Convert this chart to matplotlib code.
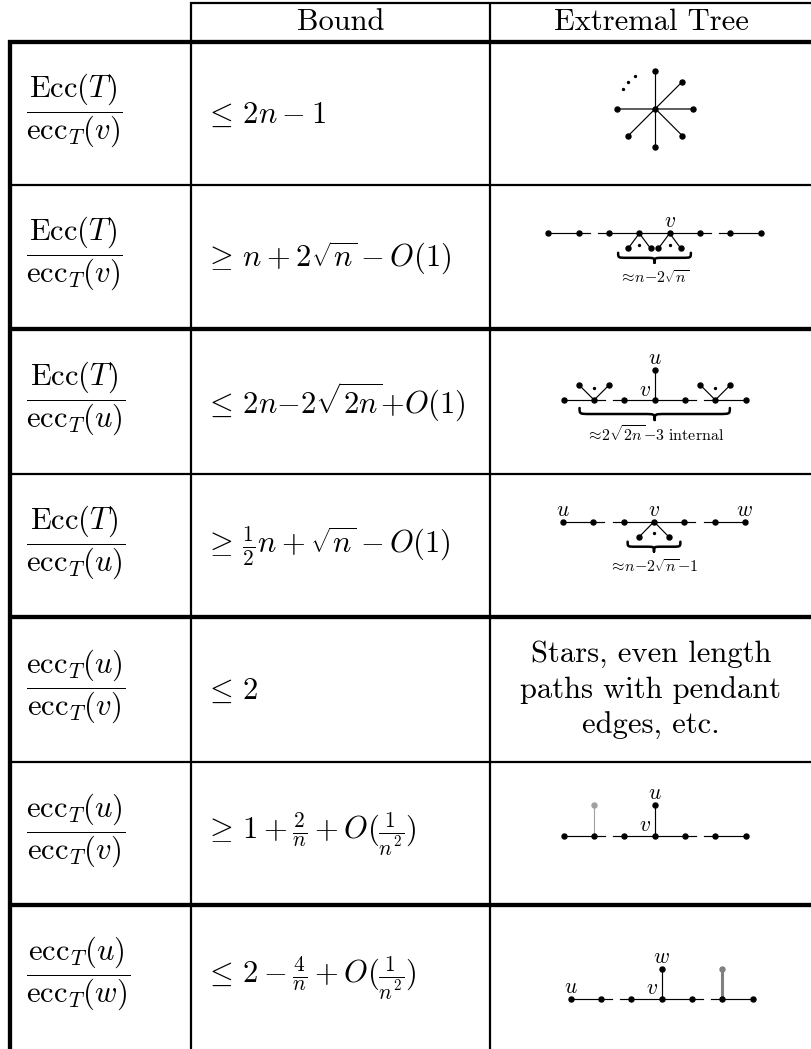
import matplotlib
matplotlib.use("Agg")
import matplotlib.pyplot as plt
from matplotlib.path import Path
from matplotlib.patches import PathPatch
import numpy as np

plt.rcParams["mathtext.fontset"] = "cm"

W, H = 812, 1049

# ---------------- table content ----------------
header_labels = ["Bound", "Extremal Tree"]
ratio_labels = [
    r"$\dfrac{\mathrm{Ecc}(T)}{\mathrm{ecc}_T(v)}$",
    r"$\dfrac{\mathrm{Ecc}(T)}{\mathrm{ecc}_T(v)}$",
    r"$\dfrac{\mathrm{Ecc}(T)}{\mathrm{ecc}_T(u)}$",
    r"$\dfrac{\mathrm{Ecc}(T)}{\mathrm{ecc}_T(u)}$",
    r"$\dfrac{\mathrm{ecc}_T(u)}{\mathrm{ecc}_T(v)}$",
    r"$\dfrac{\mathrm{ecc}_T(u)}{\mathrm{ecc}_T(v)}$",
    r"$\dfrac{\mathrm{ecc}_T(u)}{\mathrm{ecc}_T(w)}$",
]
bound_labels = [
    r"$\leq\, 2n-1$",
    r"$\geq\, n+2\sqrt{n}-O(1)$",
    r"$\leq\, 2n{-}2\sqrt{2n}{+}O(1)$",
    r"$\geq\, \frac{1}{2}n+\sqrt{n}-O(1)$",
    r"$\leq\, 2$",
    r"$\geq\, 1+\frac{2}{n}+O(\frac{1}{n^2})$",
    r"$\leq\, 2-\frac{4}{n}+O(\frac{1}{n^2})$",
]
text_tree_lines = ["Stars, even length", "paths with pendant", "edges, etc."]
text_tree_row = 4

# star (row 0)
star_leaf_angles = [90, 45, 0, -45, -90, -135, 180]
star_dot_angles = [148, 135, 122]

# path-like trees
tree_rows = [1, 2, 3, 5, 6]
tree_sizes = [8, 7, 7, 7, 7]
tree_breaks = [[1, 5], [1, 4], [1, 4], [1, 4], [1, 4]]
tree_fans = [[3, 4], [1, 5], [3], [], []]
tree_fan_dir = [1, -1, 1, 0, 0]
tree_fan_spread = [0.37, 0.5, 0.49, 0, 0]
tree_up_node = [None, 3, None, 3, 3]
tree_up_label = [None, "u", None, "u", "w"]
tree_side_label = [None, "v", None, "v", "v"]
tree_path_labels = [[(4, "v")], [], [(0, "u"), (3, "v"), (6, "w")], [], [(0, "u")]]
tree_grey_node = [None, None, None, 1, 5]
tree_grey_lw = [0, 0, 0, 0.8, 2.2]
tree_grey_color = [None, None, None, "#a0a0a0", "#808080"]
tree_brace_center = [3.5, 3, 3, None, None]
tree_brace_half = [1.2, 2.48, 0.87, 0, 0]
tree_brace_label = [r"$\approx\!n{-}2\sqrt{n}$",
                    r"$\approx\!2\sqrt{2n}{-}3\ \mathrm{internal}$",
                    r"$\approx\!n{-}2\sqrt{n}{-}1$", None, None]

# ---------------- layout ----------------
row_edges = [42, 185, 329, 474, 617, 762, 905, 1049]
row_rule_thick = [True, False, True, False, True, False, True]
col_x = [10.5, 191, 490.5]
tree_center_x = [654.5, 654.7, 654, 654.7, 661.7]
tree_path_y = [233.3, 400, 521.7, 835.7, 999]
brace_top = [19.5, 8, 20, 0, 0]
brace_h = [10, 12, 10, 0, 0]
brace_label_y = [45, 35, 46, 0, 0]
U = 30.3
THIN, THICK = 1.6, 3.1
EDGE = 0.85
MS = 3.6
main_fs = 22
lab_fs = 15.5
small_fs = 11.5

fig = plt.figure(figsize=(W / 100, H / 100), dpi=100)
ax = fig.add_axes([0, 0, 1, 1])
ax.set_xlim(0, W)
ax.set_ylim(H, 0)
ax.axis("off")

# grid
ax.plot([col_x[1] - 0.8, W], [3.2, 3.2], color="k", lw=THIN, solid_capstyle="butt")
for cx in col_x[1:]:
    ax.plot([cx, cx], [2.4, H], color="k", lw=THIN, solid_capstyle="butt")
ax.plot([col_x[0], col_x[0]], [row_edges[0] - 2, H], color="k", lw=THICK, solid_capstyle="butt")
for y, tk in zip(row_edges[:-1], row_rule_thick):
    ax.plot([col_x[0] - 2, W], [y, y], color="k", lw=THICK if tk else THIN, solid_capstyle="butt")

# header
ax.text((col_x[1] + col_x[2]) / 2, 30.5, header_labels[0], fontsize=main_fs,
        family="cmr10", ha="center", va="baseline")
ax.text((col_x[2] + W) / 2, 30.5, header_labels[1], fontsize=main_fs,
        family="cmr10", ha="center", va="baseline")

# rows
for i in range(len(ratio_labels)):
    rc = (row_edges[i] + row_edges[i + 1]) / 2
    ax.text(26, rc - 3, ratio_labels[i], fontsize=main_fs, ha="left", va="center")
    ax.text(204, rc + 1, bound_labels[i], fontsize=main_fs, ha="left", va="center")

# text cell
for j, line in enumerate(text_tree_lines):
    ax.text(651, 662 + 36 * j, line, fontsize=main_fs, family="cmr10",
            ha="center", va="baseline")

# star
sc_x, sc_y, R = 655.3, 108.7, 38
for a in star_leaf_angles:
    ex, ey = sc_x + R * np.cos(np.radians(a)), sc_y - R * np.sin(np.radians(a))
    col = "#505050" if a in (0, 180) else "k"
    lw = 1.3 if a in (0, 180) else EDGE
    ax.plot([sc_x, ex], [sc_y, ey], color=col, lw=lw, zorder=2)
    ax.plot(ex, ey, "o", color="k", ms=MS, zorder=3)
ax.plot(sc_x, sc_y, "o", color="k", ms=MS, zorder=3)
for a in star_dot_angles:
    ax.plot(sc_x + R * np.cos(np.radians(a)), sc_y - R * np.sin(np.radians(a)),
            "o", color="k", ms=1.4, zorder=3)


def brace(xc, half, ytop, h, lw=1.8):
    x0, x1 = xc - half, xc + half
    ym, yt = ytop + h / 2, ytop + h
    r = min(h * 0.9, half * 0.3)
    verts = [(x0, ytop), (x0, ym), (x0, ym), (x0 + r, ym),
             (xc - r, ym),
             (xc, ym), (xc, ym), (xc, yt),
             (xc, ym), (xc, ym), (xc + r, ym),
             (x1 - r, ym),
             (x1, ym), (x1, ym), (x1, ytop)]
    codes = [Path.MOVETO, Path.CURVE4, Path.CURVE4, Path.CURVE4,
             Path.LINETO,
             Path.CURVE4, Path.CURVE4, Path.CURVE4,
             Path.CURVE4, Path.CURVE4, Path.CURVE4,
             Path.LINETO,
             Path.CURVE4, Path.CURVE4, Path.CURVE4]
    ax.add_patch(PathPatch(Path(verts, codes), fill=False, lw=lw, color="k",
                           capstyle="round", joinstyle="round"))


for k, r in enumerate(tree_rows):
    n = tree_sizes[k]
    x0 = tree_center_x[k] - (n - 1) / 2 * U
    y0 = tree_path_y[k]
    xs = x0 + np.arange(n) * U
    for i in range(n - 1):
        if i in tree_breaks[k]:
            ax.plot([xs[i], xs[i] + 0.36 * U], [y0, y0], color="k", lw=EDGE)
            ax.plot([xs[i + 1] - 0.36 * U, xs[i + 1]], [y0, y0], color="k", lw=EDGE)
        else:
            ax.plot([xs[i], xs[i + 1]], [y0, y0], color="k", lw=EDGE)
    ax.plot(xs, [y0] * n, "o", color="k", ms=MS, zorder=3)
    # fans
    d = tree_fan_dir[k]
    s = tree_fan_spread[k] * U
    for f in tree_fans[k]:
        for sx in (-s, s):
            ax.plot([xs[f], xs[f] + sx], [y0, y0 + d * 0.5 * U], color="k", lw=EDGE)
            ax.plot(xs[f] + sx, y0 + d * 0.5 * U, "o", color="k", ms=MS, zorder=3)
        ax.plot(xs[f], y0 + d * 0.38 * U, "o", color="k", ms=1.4, zorder=3)
    # up child
    if tree_up_node[k] is not None:
        m = tree_up_node[k]
        cy = y0 - 1.0 * U
        ax.plot([xs[m], xs[m]], [y0, cy], color="k", lw=EDGE)
        ax.plot(xs[m], cy, "o", color="k", ms=MS, zorder=3)
        ax.text(xs[m], cy - 12, "$%s$" % tree_up_label[k], fontsize=lab_fs,
                ha="center", va="center")
        ax.text(xs[m] - 9.5, y0 - 10.5, "$%s$" % tree_side_label[k], fontsize=lab_fs,
                ha="center", va="center")
    for (m, lab) in tree_path_labels[k]:
        ax.text(xs[m], y0 - 12, "$%s$" % lab, fontsize=lab_fs, ha="center", va="center")
    # grey pendant
    if tree_grey_node[k] is not None:
        m = tree_grey_node[k]
        cy = y0 - 1.0 * U
        ax.plot([xs[m], xs[m]], [y0, cy], color=tree_grey_color[k], lw=tree_grey_lw[k])
        ax.plot(xs[m], cy, "o", color=tree_grey_color[k], ms=MS, zorder=3)
    # brace
    if tree_brace_center[k] is not None:
        bc = x0 + tree_brace_center[k] * U
        brace(bc, tree_brace_half[k] * U, y0 + brace_top[k], brace_h[k])
        ax.text(bc, y0 + brace_label_y[k], tree_brace_label[k], fontsize=small_fs,
                ha="center", va="center")

fig.savefig("out.png", dpi=100)
